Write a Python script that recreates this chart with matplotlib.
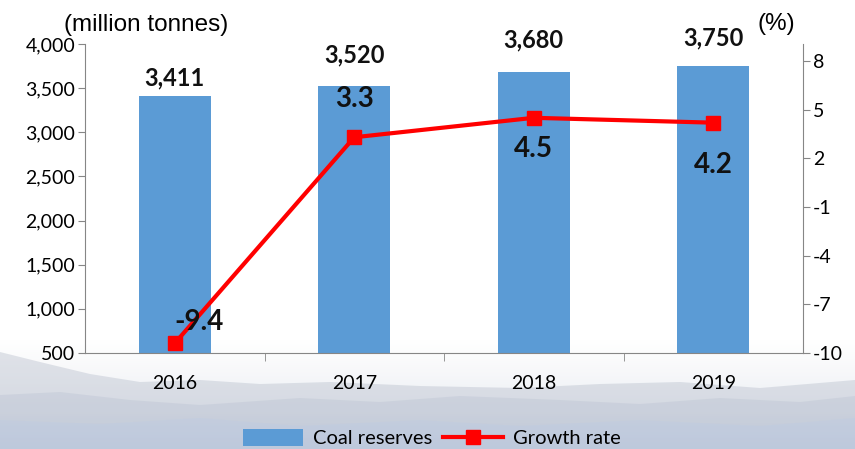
import matplotlib.pyplot as plt
import numpy as np
from matplotlib.colors import LinearSegmentedColormap

plt.rcParams["axes.unicode_minus"] = False

years = ["2016", "2017", "2018", "2019"]
coal_reserves = [3411, 3520, 3680, 3750]
growth_rate = [-9.4, 3.3, 4.5, 4.2]
bar_labels = ["3,411", "3,520", "3,680", "3,750"]
growth_labels = ["-9.4", "3.3", "4.5", "4.2"]

# label offsets in pixels (dx, dy)
bar_offsets = [(0, 18), (0, 31), (0, 32), (0, 28)]
growth_offsets = [(24, 21), (0, 38), (0, -31), (0, -42)]

fig = plt.figure(figsize=(8.55, 4.49), dpi=100)

# misty mountain backdrop
bg = fig.add_axes([0, 0, 1, 1], zorder=0)
bg.set_xlim(0, 855)
bg.set_ylim(449, 0)
bg.axis("off")
grad = np.linspace(0, 1, 200).reshape(-1, 1)
cmap = LinearSegmentedColormap.from_list("sky", ["#ffffff", "#f6f7f9", "#e9edf4", "#cdd8ea"])
bg.imshow(grad, extent=[0, 855, 449, 340], cmap=cmap, aspect="auto", zorder=0)
ridge1_x = [0, 40, 90, 140, 200, 260, 330, 420, 520, 600, 680, 760, 855, 855, 0]
ridge1_y = [352, 362, 374, 382, 380, 384, 382, 386, 388, 384, 382, 388, 380, 449, 449]
bg.fill(ridge1_x, ridge1_y, color="#bcc2cf", alpha=0.45, lw=0, zorder=1)
ridge2_x = [0, 60, 130, 200, 300, 380, 460, 560, 640, 720, 800, 855, 855, 0]
ridge2_y = [395, 392, 400, 405, 398, 402, 396, 400, 404, 398, 402, 396, 449, 449]
bg.fill(ridge2_x, ridge2_y, color="#b3bccd", alpha=0.3, lw=0, zorder=2)
ridge3_x = [0, 100, 200, 300, 420, 520, 640, 760, 855, 855, 0]
ridge3_y = [420, 424, 418, 426, 420, 426, 420, 426, 418, 449, 449]
bg.fill(ridge3_x, ridge3_y, color="#bccbe5", alpha=0.35, lw=0, zorder=3)

ax = fig.add_axes([85 / 855, 1 - 353 / 449, 718 / 855, 309 / 449], zorder=2)
ax.patch.set_alpha(0)
x = np.arange(len(years))
bars = ax.bar(x, coal_reserves, width=0.4, color="#5b9bd5", zorder=2, label="Coal reserves")
ax.set_xlim(-0.5, 3.5)
ax.set_ylim(500, 4000)
ax.set_yticks(np.arange(500, 4001, 500))
ax.set_yticklabels([f"{v:,}" for v in range(500, 4001, 500)])
ax.set_xticks(x)
ax.set_xticklabels(years)
ax.set_xticks(np.arange(0.5, 3.0, 1.0), minor=True)
ax.tick_params(axis="x", which="major", length=0, pad=16)
ax.tick_params(axis="x", which="minor", length=6, direction="out", color="#868686")
ax.tick_params(axis="y", length=5, color="#868686", pad=2)
for side in ["top", "right"]:
    ax.spines[side].set_visible(False)
for side in ["left", "bottom"]:
    ax.spines[side].set_color("#868686")
for lbl in ax.get_xticklabels() + ax.get_yticklabels():
    lbl.set_family("Lato")
    lbl.set_fontsize(14)

for xi, v, txt, (dx, dy) in zip(x, coal_reserves, bar_labels, bar_offsets):
    ax.annotate(txt, (xi, v), xytext=(dx, dy), textcoords="offset pixels",
                ha="center", va="center", fontsize=17, fontweight="bold",
                family="Lato", color="#111111")

ax2 = ax.twinx()
ax2.set_zorder(3)
line, = ax2.plot(x, growth_rate, color="#ff0000", lw=3, marker="s", markersize=10,
                 label="Growth rate", zorder=4)
ax2.set_ylim(-10, 9.05)
ax2.set_yticks([-10, -7, -4, -1, 2, 5, 8])
ax2.tick_params(axis="y", length=5, color="#868686", pad=2)
for side in ["top", "left", "bottom"]:
    ax2.spines[side].set_visible(False)
ax2.spines["right"].set_color("#868686")
for lbl in ax2.get_yticklabels():
    lbl.set_family("Lato")
    lbl.set_fontsize(14)

for xi, v, txt, (dx, dy) in zip(x, growth_rate, growth_labels, growth_offsets):
    ax2.annotate(txt, (xi, v), xytext=(dx, dy), textcoords="offset pixels",
                 ha="center", va="center", fontsize=20, fontweight="bold",
                 family="Lato", color="#111111", zorder=5)

fig.text(64 / 855, 1 - 25 / 449, "(million tonnes)", family="Liberation Sans",
         fontsize=17.5, ha="left", va="center")
fig.text(757 / 855, 1 - 24 / 449, "(%)", family="Liberation Sans",
         fontsize=17.5, ha="left", va="center")

leg = fig.legend([bars, line], ["Coal reserves", "Growth rate"], loc="center",
                 bbox_to_anchor=(432 / 855, 1 - 438 / 449), ncol=2, frameon=False,
                 prop={"family": "Lato", "size": 14.5}, handlelength=3.0,
                 handleheight=0.9, handletextpad=0.5, columnspacing=0.5, borderpad=0)

fig.savefig("out.png", dpi=100)
